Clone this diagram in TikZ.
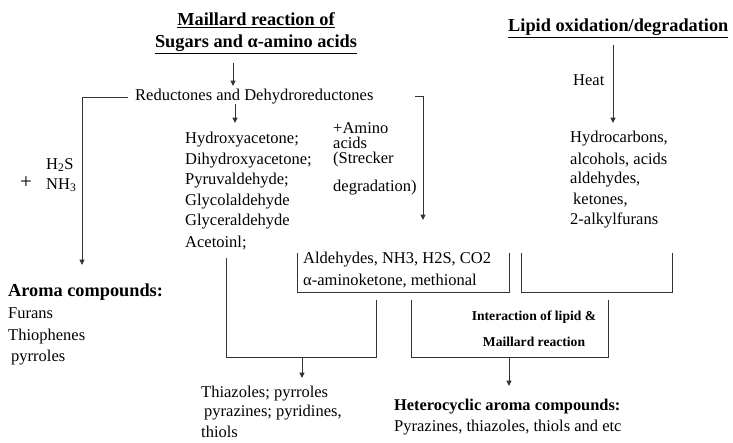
\documentclass[tikz,border=0pt]{standalone}
\usepackage{fontspec}
\setmainfont{Liberation Serif}
\usetikzlibrary{arrows.meta}
\begin{document}
\begin{tikzpicture}[x=1pt,y=-1pt,
 txt/.style={anchor=west,inner sep=0pt,font=\fontsize{16.5}{19}\selectfont},
 ttl/.style={inner sep=0pt,font=\fontsize{18.3}{21}\selectfont\bfseries},
 sub/.style={inner sep=0pt,font=\fontsize{16.4}{19}\selectfont\bfseries},
 small/.style={inner sep=0pt,font=\fontsize{13.6}{16}\selectfont\bfseries},
 ln/.style={draw=black!80,line width=1pt},
 arr/.style={ln,-{Triangle[length=5.5pt,width=5pt]}}]
\useasboundingbox[fill=white] (0,0) rectangle (733,442);
% titles
\node[ttl] (t1a) at (256,20) {\underline{Maillard reaction of}};
\node[ttl] (t1b) at (256,44) {\underline{Sugars and α-amino acids}};
\node[ttl,anchor=west] (t2) at (508,28) {\underline{Lipid oxidation/degradation}};
% reductones
\node[txt] (red) at (135,97) {Reductones and Dehydroreductones};
% list
\node[txt] (h1) at (185,140) {Hydroxyacetone;};
\node[txt] (h2) at (185,161) {Dihydroxyacetone;};
\node[txt] (h3) at (185,181) {Pyruvaldehyde;};
\node[txt] (h4) at (185,202) {Glycolaldehyde};
\node[txt] (h5) at (185,222) {Glyceraldehyde};
\node[txt] (h6) at (185,243) {Acetoinl;};
% H2S NH3
\node[txt] (hs) at (46,165) {H\textsubscript{2}S};
\node[txt] (nh) at (46,185) {NH\textsubscript{3}};
\node[txt,font=\fontsize{21}{24}\selectfont] (plus) at (20,183) {+};
% amino acids
\node[txt] (a1) at (333,128) {+Amino};
\node[txt] (a2) at (333,143) {acids};
\node[txt] (a3) at (333,160) {(Strecker};
\node[txt] (a4) at (333,188) {degradation)};
% lipid products
\node[txt] (heat) at (573,80) {Heat};
\node[txt] (p1) at (570,139) {Hydrocarbons,};
\node[txt] (p2) at (570,160) {alcohols, acids};
\node[txt] (p3) at (570,180) {aldehydes,};
\node[txt] (p4) at (573,200) {ketones,};
\node[txt] (p5) at (570,220) {2-alkylfurans};
% aldehydes box
\node[txt] (ald1) at (303,260) {Aldehydes, NH3, H2S, CO2};
\node[txt] (ald2) at (303,281) {α-aminoketone, methional};
% aroma compounds
\node[ttl,anchor=west] (aroma) at (8,292) {Aroma compounds:};
\node[txt] (f1) at (8,313) {Furans};
\node[txt] (f2) at (8,337) {Thiophenes};
\node[txt] (f3) at (11,358) {pyrroles};
% interaction
\node[small] (int1) at (534,317) {Interaction of lipid \&};
\node[small] (int2) at (534,342) {Maillard reaction};
% bottom
\node[txt] (th1) at (201,394) {Thiazoles; pyrroles};
\node[txt] (th2) at (204,413) {pyrazines; pyridines,};
\node[txt] (th3) at (201,432) {thiols};
\node[sub,anchor=west] (het) at (394,407) {Heterocyclic aroma compounds:};
\node[txt] (het2) at (394,428) {Pyrazines, thiazoles, thiols and etc};
% coordinates
\coordinate (c1) at (233,63);
\coordinate (c2) at (233,86);
\coordinate (c3) at (235,104);
\coordinate (c4) at (235,123);
\coordinate (lb0) at (128,97);
\coordinate (lb1) at (82,97);
\coordinate (lb2) at (82,265);
\coordinate (rb0) at (415,96);
\coordinate (rb1) at (423,96);
\coordinate (rb2) at (423,220);
\coordinate (ht0) at (613,45);
\coordinate (ht1) at (613,123);
\coordinate (ua) at (297,253);
\coordinate (ub) at (509,292);
\coordinate (va) at (521,253);
\coordinate (vb) at (672,292);
\coordinate (wa) at (226,258);
\coordinate (wb) at (376,357);
\coordinate (wc) at (376,300);
\coordinate (w1) at (302,357);
\coordinate (w2) at (302,378);
\coordinate (xa) at (411,300);
\coordinate (xb) at (608,357);
\coordinate (xc) at (608,300);
\coordinate (x1) at (509,357);
\coordinate (x2) at (509,386);
% connectors
\draw[arr] (c1) -- (c2);
\draw[arr] (c3) -- (c4);
\draw[arr] (lb0) -- (lb1) -- (lb2);
\draw[arr] (rb0) -- (rb1) -- (rb2);
\draw[arr] (ht0) -- (ht1);
\draw[ln] (ua) |- (ub) -- (ub |- ua);
\draw[ln] (va) |- (vb) -- (vb |- va);
\draw[ln] (wa) |- (wb) -- (wc);
\draw[arr] (w1) -- (w2);
\draw[ln] (xa) |- (xb) -- (xc);
\draw[arr] (x1) -- (x2);
\end{tikzpicture}
\end{document}
